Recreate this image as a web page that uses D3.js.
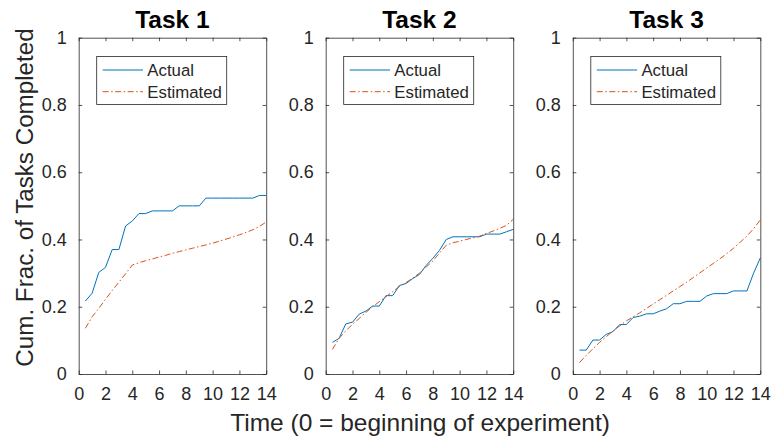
<!DOCTYPE html>
<html>
<head>
<meta charset="utf-8">
<script src="https://cdn.jsdelivr.net/npm/d3@7"></script>
<style>
  html, body { margin: 0; padding: 0; background: #fff; }
  svg { display: block; font-family: "Liberation Sans", Arial, sans-serif; }
</style>
</head>
<body>
<svg id="chart" width="774" height="443"></svg>
<script>
// ---- data ----
const taskTitles = ["Task 1", "Task 2", "Task 3"];
const seriesNames = ["Actual", "Estimated"];
const times = [0.5, 1, 1.5, 2, 2.5, 3, 3.5, 4, 4.5, 5, 5.5, 6, 6.5, 7, 7.5, 8, 8.5, 9, 9.5, 10, 10.5, 11, 11.5, 12, 12.5, 13, 13.5, 14];
const task1Actual = [0.217, 0.240, 0.302, 0.317, 0.370, 0.370, 0.440, 0.455, 0.477, 0.477, 0.485, 0.485, 0.485, 0.485, 0.500, 0.500, 0.500, 0.500, 0.523, 0.523, 0.523, 0.523, 0.523, 0.523, 0.523, 0.523, 0.531, 0.531];
const task1Estimated = [0.136, 0.170, 0.195, 0.222, 0.248, 0.273, 0.298, 0.324, 0.331, 0.337, 0.342, 0.348, 0.353, 0.359, 0.364, 0.369, 0.374, 0.379, 0.384, 0.389, 0.395, 0.401, 0.407, 0.414, 0.421, 0.429, 0.439, 0.452];
const task2Actual = [0.094, 0.106, 0.149, 0.154, 0.178, 0.187, 0.202, 0.202, 0.233, 0.233, 0.263, 0.269, 0.284, 0.296, 0.323, 0.344, 0.368, 0.400, 0.408, 0.408, 0.408, 0.408, 0.408, 0.416, 0.416, 0.416, 0.423, 0.430];
const task2Estimated = [0.073, 0.106, 0.128, 0.148, 0.165, 0.183, 0.200, 0.215, 0.230, 0.245, 0.260, 0.272, 0.285, 0.300, 0.318, 0.336, 0.360, 0.383, 0.390, 0.395, 0.400, 0.405, 0.410, 0.418, 0.425, 0.433, 0.442, 0.460];
const task3Actual = [0.071, 0.071, 0.101, 0.101, 0.118, 0.126, 0.147, 0.147, 0.168, 0.172, 0.179, 0.179, 0.187, 0.194, 0.209, 0.209, 0.216, 0.216, 0.216, 0.232, 0.239, 0.239, 0.239, 0.247, 0.247, 0.247, 0.300, 0.345];
const task3Estimated = [0.034, 0.055, 0.075, 0.094, 0.111, 0.128, 0.143, 0.158, 0.170, 0.182, 0.195, 0.208, 0.221, 0.234, 0.247, 0.260, 0.273, 0.287, 0.301, 0.315, 0.329, 0.343, 0.358, 0.374, 0.392, 0.410, 0.432, 0.458];
const xTicks = [0, 2, 4, 6, 8, 10, 12, 14];
const yTicks = [0, 0.2, 0.4, 0.6, 0.8, 1];
const xLabel = "Time (0 = beginning of experiment)";
const yLabel = "Cum. Frac. of Tasks Completed";

const actualSets = [task1Actual, task2Actual, task3Actual];
const estimatedSets = [task1Estimated, task2Estimated, task3Estimated];

// ---- layout ----
const svg = d3.select("#chart");
const axisColor = "#262626";
const colActual = "#0072BD";
const colEst = "#D95319";
const panelW = 187.5, plotTop = 37.7, plotBottom = 374;
const lefts = [78.7, 325.7, 572.8];
const tickLen = 3.5;

const y = d3.scaleLinear().domain([0, 1]).range([plotBottom, plotTop]);

lefts.forEach((left, i) => {
  const x = d3.scaleLinear().domain([0, 14]).range([left, left + panelW]);
  const g = svg.append("g");

  // lines
  const line = d3.line().x((d, k) => x(times[k])).y(d => y(d));
  g.append("path").datum(actualSets[i])
    .attr("d", line).attr("fill", "none")
    .attr("stroke", colActual).attr("stroke-width", 1);
  g.append("path").datum(estimatedSets[i])
    .attr("d", line).attr("fill", "none")
    .attr("stroke", colEst).attr("stroke-width", 1)
    .attr("stroke-dasharray", "6,2.5,1.5,2.5");

  // axes (bottom / left with inner ticks)
  const xAxis = d3.axisBottom(x).tickValues(xTicks).tickSizeInner(-tickLen).tickSizeOuter(0).tickPadding(14);
  const gx = g.append("g").attr("transform", `translate(0,${plotBottom})`).call(xAxis);
  const yAxis = d3.axisLeft(y).tickValues(yTicks).tickFormat(d => d === 0 || d === 1 ? d3.format("d")(d) : d3.format(".1f")(d)).tickSizeInner(-tickLen).tickSizeOuter(0).tickPadding(12);
  const gy = g.append("g").attr("transform", `translate(${left},0)`).call(yAxis);
  // top / right ticks
  const xAxisTop = d3.axisTop(x).tickValues(xTicks).tickSizeInner(-tickLen).tickSizeOuter(0).tickFormat("");
  const gxt = g.append("g").attr("transform", `translate(0,${plotTop})`).call(xAxisTop);
  const yAxisR = d3.axisRight(y).tickValues(yTicks).tickSizeInner(-tickLen).tickSizeOuter(0).tickFormat("");
  const gyr = g.append("g").attr("transform", `translate(${left + panelW},0)`).call(yAxisR);

  [gx, gy, gxt, gyr].forEach(a => {
    a.select(".domain").attr("stroke", axisColor).attr("stroke-width", 0.8);
    a.selectAll(".tick line").attr("stroke", axisColor).attr("stroke-width", 0.8);
    a.selectAll(".tick text").attr("fill", axisColor).style("font-size", "18px").style("font-family", "'Liberation Sans', Arial, sans-serif");
  });
  gx.selectAll(".tick text").attr("dy", "0.71em").attr("y", 13);

  // title
  g.append("text")
    .attr("x", left + panelW / 2).attr("y", 28.3)
    .attr("text-anchor", "middle")
    .attr("font-weight", "bold").attr("font-size", 24.5)
    .attr("fill", "#000")
    .text(taskTitles[i]);

  // legend
  const lx = left + 18, ly = 56.5, lw = 130, lh = 48;
  const lg = g.append("g");
  lg.append("rect").attr("x", lx).attr("y", ly).attr("width", lw).attr("height", lh)
    .attr("fill", "#fff").attr("stroke", axisColor).attr("stroke-width", 0.8);
  const rows = [ly + 13.5, ly + 35.2];
  seriesNames.forEach((name, k) => {
    lg.append("line").attr("x1", lx + 6).attr("x2", lx + 46.3)
      .attr("y1", rows[k]).attr("y2", rows[k])
      .attr("stroke", k === 0 ? colActual : colEst).attr("stroke-width", 1)
      .attr("stroke-dasharray", k === 0 ? null : "6,2.5,1.5,2.5");
    lg.append("text").attr("x", lx + 50.6).attr("y", rows[k]).attr("dy", "0.35em")
      .attr("font-size", 16.8).attr("fill", axisColor).text(name);
  });
});

// shared labels
svg.append("text")
  .attr("x", 420).attr("y", 431)
  .attr("text-anchor", "middle").attr("font-size", 24.5).attr("fill", axisColor)
  .text(xLabel);
svg.append("text")
  .attr("transform", "translate(33,197.5) rotate(-90)")
  .attr("text-anchor", "middle").attr("font-size", 24.2).attr("fill", axisColor)
  .text(yLabel);
</script>
</body>
</html>
